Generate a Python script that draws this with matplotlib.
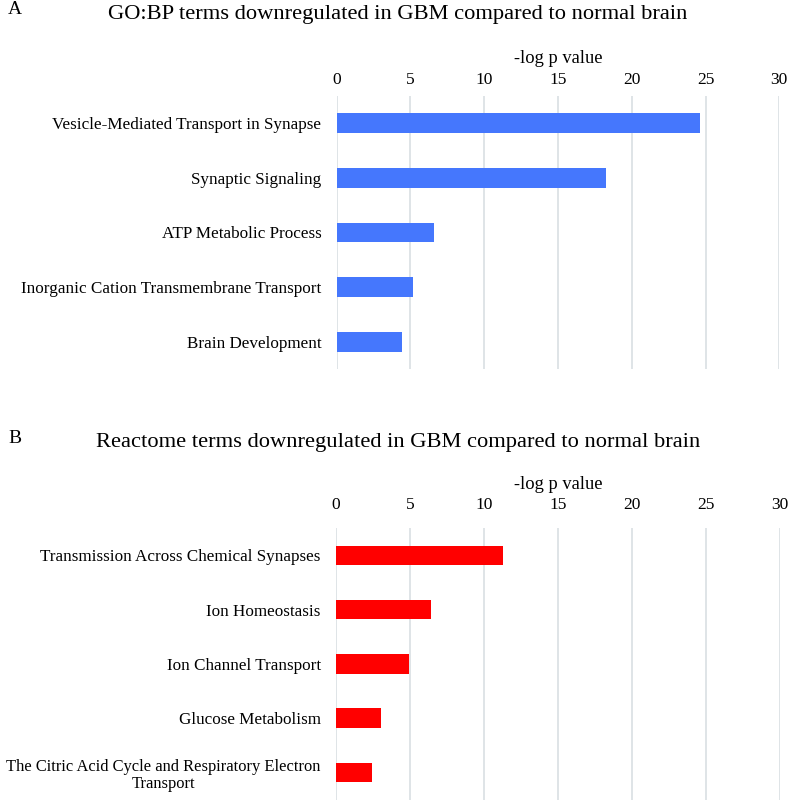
import matplotlib
matplotlib.use("Agg")
import matplotlib.pyplot as plt

plt.rcParams['font.family'] = ['Liberation Serif', 'DejaVu Serif']

# Data
go_terms = ["Vesicle-Mediated Transport in Synapse", "Synaptic Signaling",
            "ATP Metabolic Process", "Inorganic Cation Transmembrane Transport",
            "Brain Development"]
go_values = [24.65, 18.28, 6.6, 5.18, 4.46]

reactome_terms = ["Transmission Across Chemical Synapses", "Ion Homeostasis",
                  "Ion Channel Transport", "Glucose Metabolism",
                  "The Citric Acid Cycle and Respiratory Electron\nTransport"]
reactome_values = [11.25, 6.41, 4.9, 3.04, 2.41]

xticks = [0, 5, 10, 15, 20, 25, 30]
title_a = "GO:BP terms downregulated in GBM compared to normal brain"
title_b = "Reactome terms downregulated in GBM compared to normal brain"
xlabel = "-log p value"

W, H = 789, 800
fig = plt.figure(figsize=(W / 100, H / 100), dpi=100)

grid_color = "#d9dfe3"


def panel(rect, terms, values, color, tickpad, labelpad):
    ax = fig.add_axes(rect)
    y = list(range(len(terms)))
    ax.barh(y, values, height=0.36, color=color, zorder=3)
    ax.set_ylim(len(terms) - 0.5, -0.5)
    ax.set_xlim(0, 30)
    ax.set_xticks(xticks)
    ax.set_xticklabels([str(t) for t in xticks])
    ax.xaxis.tick_top()
    ax.xaxis.set_label_position('top')
    ax.set_xlabel(xlabel, fontsize=13.3, labelpad=labelpad)
    ax.set_yticks(y)
    ax.set_yticklabels(terms, fontsize=12.3, multialignment='center',
                       linespacing=1.1)
    for lbl in ax.get_yticklabels():
        if "\n" in lbl.get_text():
            lbl.set_fontsize(11.9)
    ax.tick_params(axis='x', length=0, pad=tickpad, labelsize=12.5)
    ax.tick_params(axis='y', length=0, pad=11)
    ax.grid(axis='x', color=grid_color, linewidth=1.2, zorder=0)
    for s in ax.spines.values():
        s.set_visible(False)
    return ax


panel([336.7 / W, 1 - 369 / H, 442.6 / W, 273 / H], go_terms, go_values,
      "#4577fd", tickpad=6, labelpad=6)
panel([336.0 / W, 1 - 799.7 / H, 444.3 / W, 271.5 / H], reactome_terms,
      reactome_values, "#ff0000", tickpad=11, labelpad=6)

fig.text(397.5 / W, 1 - 14 / H, title_a, ha='center', va='center', fontsize=16.2)
fig.text(398 / W, 1 - 443 / H, title_b, ha='center', va='center', fontsize=16.2)
fig.text(8 / W, 1 - 9 / H, "A", ha='left', va='center', fontsize=14)
fig.text(8 / W, 1 - 439 / H, "B", ha='left', va='center', fontsize=14)

fig.savefig("out.png", dpi=100)
